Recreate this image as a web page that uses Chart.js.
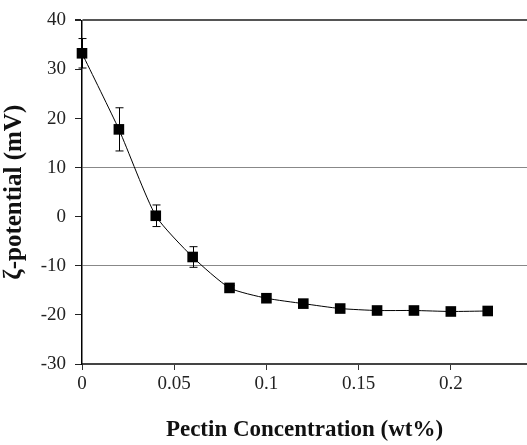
<!DOCTYPE html>
<html>
<head>
<meta charset="utf-8">
<script src="https://cdn.jsdelivr.net/npm/chart.js@4/dist/chart.umd.min.js"></script>
<style>
html,body{margin:0;padding:0;background:#fff;}
#wrap{width:527px;height:445px;position:relative;}
</style>
</head>
<body>
<div id="wrap"><canvas id="c" width="527" height="445"></canvas></div>
<script>
const concentrations = [0, 0.02, 0.04, 0.06, 0.08, 0.10, 0.12, 0.14, 0.16, 0.18, 0.20, 0.22];
const zetaPotential = [33.3, 17.8, 0.2, -8.2, -14.5, -16.6, -17.7, -18.7, -19.1, -19.1, -19.3, -19.2];
const zetaError = [3.0, 4.4, 2.2, 2.1, 0.5, 0.5, 0.5, 0.5, 0.5, 0.5, 0.5, 0.8];
const xTicks = [0, 0.05, 0.1, 0.15, 0.2];
const yTicks = [-30, -20, -10, 0, 10, 20, 30, 40];
const gridValues = [10, -10];

const serif = "'Liberation Serif', 'Times New Roman', serif";

const errorBars = {
  id: 'errorBars',
  beforeDatasetsDraw(chart) {
    const ctx = chart.ctx;
    const xs = chart.scales.x, ys = chart.scales.y;
    ctx.save();
    ctx.strokeStyle = '#000';
    ctx.lineWidth = 1;
    concentrations.forEach((c, i) => {
      const px = Math.round(xs.getPixelForValue(c)) + 0.5;
      const top = ys.getPixelForValue(zetaPotential[i] + zetaError[i]);
      const bot = ys.getPixelForValue(zetaPotential[i] - zetaError[i]);
      ctx.beginPath();
      ctx.moveTo(px, top); ctx.lineTo(px, bot);
      ctx.moveTo(px - 4, top); ctx.lineTo(px + 4, top);
      ctx.moveTo(px - 4, bot); ctx.lineTo(px + 4, bot);
      ctx.stroke();
    });
    ctx.restore();
  }
};

new Chart(document.getElementById('c'), {
  type: 'scatter',
  data: {
    datasets: [{
      data: concentrations.map((c, i) => ({x: c, y: zetaPotential[i]})),
      showLine: true,
      clip: false,
      borderColor: '#000',
      borderWidth: 1,
      tension: 0.2,
      pointStyle: 'rect',
      pointRadius: 7.5,
      pointHoverRadius: 7.5,
      backgroundColor: '#000',
      pointBorderWidth: 0
    }]
  },
  options: {
    responsive: false,
    animation: false,
    events: [],
    layout: {autoPadding: false, padding: {left: 0, right: 0, top: 18, bottom: 0}},
    plugins: {legend: {display: false}, tooltip: {enabled: false}},
    scales: {
      x: {
        type: 'linear',
        min: 0,
        max: 0.2413,
        afterBuildTicks(scale) { scale.ticks = xTicks.map(v => ({value: v})); },
        afterFit(scale) { scale.height = 81; scale.paddingRight = 0; scale.paddingLeft = 0; },
        border: {display: true, color: '#444', width: 2},
        grid: {display: true, drawOnChartArea: false, drawTicks: true, tickLength: 6, tickColor: '#333'},
        ticks: {
          color: '#222', padding: 3,
          font: {family: serif, size: 19},
          callback: v => String(v)
        },
        title: {
          display: true,
          text: 'Pectin Concentration (wt%)',
          color: '#111',
          font: {family: serif, size: 23, weight: 'bold'},
          padding: {top: 0, bottom: 1}
        }
      },
      y: {
        min: -30,
        max: 40,
        afterBuildTicks(scale) { scale.ticks = yTicks.map(v => ({value: v})); },
        afterFit(scale) { scale.width = 82; },
        border: {display: true, color: '#000', width: 1.5},
        grid: {
          drawTicks: true,
          tickLength: 7,
          tickColor: '#222',
          color: ctx => {
            const v = ctx.tick ? ctx.tick.value : null;
            if (v === 40) return '#555';
            return gridValues.includes(v) ? '#888' : 'rgba(0,0,0,0)';
          },
          lineWidth: ctx => (ctx.tick && ctx.tick.value === 40) ? 2 : 1
        },
        ticks: {
          color: '#222', padding: 9,
          font: {family: serif, size: 19}
        },
        title: {
          display: true,
          text: 'ζ-potential (mV)',
          color: '#111',
          font: {family: serif, size: 25, weight: 'bold'},
          padding: {top: 0, bottom: 0}
        }
      }
    }
  },
  plugins: [errorBars]
});
</script>
</body>
</html>
